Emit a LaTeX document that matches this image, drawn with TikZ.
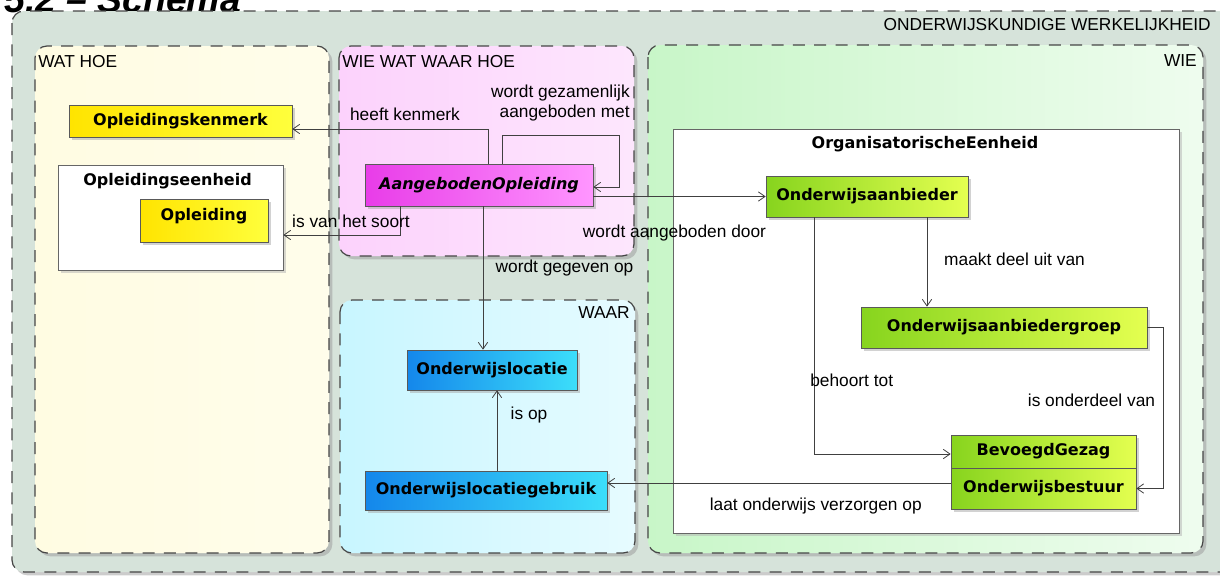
\documentclass[tikz,border=0pt]{standalone}
\usepackage{fontspec}
\setmainfont{Liberation Sans}
\newfontfamily\klassefont{DejaVu Sans}
\usetikzlibrary{shadows,arrows.meta,calc}

\definecolor{achtergrond}{RGB}{214,227,218}
\definecolor{lijngrijs}{RGB}{70,70,70}
\definecolor{watgeel}{RGB}{255,252,226}
\definecolor{roze}{RGB}{252,210,252}
\definecolor{lichtblauw}{RGB}{200,246,255}
\definecolor{lichtgroen}{RGB}{200,246,200}

\begin{document}
\begin{tikzpicture}[x=0.75pt,y=0.75pt,yscale=-1,xscale=1,
  pakket/.style={draw=lijngrijs, line width=0.9pt, dash pattern=on 9pt off 7pt, rounded corners=9pt,
    drop shadow={shadow xshift=2.5pt, shadow yshift=-2.5pt, fill=black!40}},
  klasse/.style={draw=black!65, line width=0.5pt, inner sep=0pt, text=black,
    font=\klassefont\bfseries\fontsize{12}{14}\selectfont,
    drop shadow={shadow xshift=2pt, shadow yshift=-2pt, fill=black!35}},
  geel/.style={klasse, left color={rgb,255:red,255;green,228;blue,0}, right color={rgb,255:red,255;green,255;blue,60}},
  magenta/.style={klasse, left color={rgb,255:red,232;green,60;blue,232}, right color={rgb,255:red,255;green,150;blue,255}},
  groen/.style={klasse, left color={rgb,255:red,135;green,212;blue,30}, right color={rgb,255:red,228;green,255;blue,80}},
  blauw/.style={klasse, left color={rgb,255:red,20;green,135;blue,235}, right color={rgb,255:red,60;green,222;blue,250}},
  omvat/.style={draw=black!60, line width=0.5pt, fill=white, inner sep=0pt,
    drop shadow={shadow xshift=2pt, shadow yshift=-2pt, fill=black!30}},
  kop/.style={font=\klassefont\bfseries\fontsize{12}{14}\selectfont, inner sep=0pt},
  lbl/.style={font=\fontsize{13}{15}\selectfont, inner sep=0pt},
  assoc/.style={draw=black!75, line width=0.6pt, -{Straight Barb[length=5pt,width=7pt]}}]

\clip (0,0) rectangle (1220,575);

% titel, bovenkant valt buiten beeld
\node[anchor=base west, inner sep=0pt, font=\fontsize{28}{30}\selectfont\bfseries\itshape] (titel) at (4,12) {5.2 – Schema};

% pakketten
\draw[pakket, fill=achtergrond, drop shadow={opacity=0}] (12,11) rectangle (1240,572);
\draw[pakket, left color=watgeel, right color=watgeel!70!white] (35,46) rectangle (329,553);
\draw[pakket, left color=roze, right color=roze!55!white] (339,46) rectangle (634,256);
\draw[pakket, left color=lichtblauw, right color=lichtblauw!45!white] (340,300) rectangle (635,553);
\draw[pakket, left color=lichtgroen, right color=lichtgroen!30!white] (648,45) rectangle (1203,553);

\node[lbl, anchor=east] (pOW) at (1211,25) {ONDERWIJSKUNDIGE WERKELIJKHEID};
\node[lbl, anchor=west] (pWATHOE) at (38,62) {WAT HOE};
\node[lbl, anchor=west] (pWWWH) at (342,62) {WIE WAT WAAR HOE};
\node[lbl, anchor=east] (pWAAR) at (630,313) {WAAR};
\node[lbl, anchor=east] (pWIE) at (1197,61) {WIE};

% omvattende klassen
\node[omvat, minimum width=168.75pt, minimum height=78.75pt] (OE) at (170.5,217.5) {};
\node[kop] (OEkop) at (167.5,181) {Opleidingseenheid};
\node[omvat, minimum width=379.5pt, minimum height=303pt] (OrgE) at (926,331) {};
\node[kop] (OrgEkop) at (925,144) {OrganisatorischeEenheid};

% klassen
\node[geel, minimum width=167.25pt, minimum height=24pt] (OKM) at (180.5,121) {Opleidingskenmerk};
\node[geel, minimum width=96pt, minimum height=32.25pt, text height=9pt, text depth=9pt] (OPL) at (204,220.5) {Opleiding};
\node[magenta, minimum width=171pt, minimum height=31.5pt, font=\klassefont\bfseries\itshape\fontsize{12}{14}\selectfont] (AO) at (479,185) {AangebodenOpleiding};
\node[groen, minimum width=151.5pt, minimum height=30.75pt] (OA) at (867,196.5) {Onderwijsaanbieder};
\node[groen, minimum width=214.5pt, minimum height=30.75pt] (OAG) at (1004,327.5) {Onderwijsaanbiedergroep};
\node[groen, minimum width=138.75pt, minimum height=24.75pt] (BG) at (1043.5,451.5) {BevoegdGezag};
\node[groen, minimum width=138.75pt, minimum height=30.75pt] (OB) at (1043.5,488.5) {Onderwijsbestuur};
\node[blauw, minimum width=127.5pt, minimum height=30pt] (OL) at (492,370) {Onderwijslocatie};
\node[blauw, minimum width=181.5pt, minimum height=29.25pt] (OLG) at (486,490.5) {Onderwijslocatiegebruik};

% associaties
\coordinate (hk) at ($(AO.north)+(9,0)$);
\coordinate (gz) at ($(AO.north)+(23,0)$);
\coordinate (vs) at ($(AO.south)+(-79,0)$);
\coordinate (go) at ($(AO.south)+(4,0)$);
\coordinate (io) at ($(OLG.north)+(11,0)$);
\coordinate (md) at ($(OA.south)+(60,0)$);
\coordinate (bt) at ($(OA.south)+(-53,0)$);
\coordinate (lo) at ($(OB.west)+(0,-5.5)$);

\draw[assoc] (hk) |- ($(OKM.east)+(0,8)$);
\draw[assoc] (gz) -- ++(0,-28) -| ($(AO.east)+(26,2)$) -- ($(AO.east)+(0,2)$);
\draw[assoc] (vs) |- ($(OE.east)+(0,17.5)$);
\draw[assoc] (AO.east |- OA.west) -- (OA.west);
\draw[assoc] (go) -- (go |- OL.north);
\draw[assoc] (io) -- (io |- OL.south);
\draw[assoc] (md) -- (md |- OAG.north);
\draw[assoc] (bt) |- ($(BG.west)+(0,2.5)$);
\draw[assoc] (OAG.east) -- ++(16,0) |- (OB.east);
\draw[assoc] (lo) -- (lo -| OLG.east);

% rollen
\node[lbl] (lhk) at (405,114) {heeft kenmerk};
\node[lbl, anchor=east, align=right] (lgz) at (630,103) {wordt gezamenlijk\\aangeboden met};
\node[lbl] (lvs) at (351,221) {is van het soort};
\node[lbl] (lad) at (674.5,233) {wordt aangeboden door};
\node[lbl] (lgo) at (564.5,268) {wordt gegeven op};
\node[lbl] (lio) at (529,415) {is op};
\node[lbl] (lmd) at (1014.5,259) {maakt deel uit van};
\node[lbl, anchor=west] (lbt) at (810,380) {behoort tot};
\node[lbl] (lod) at (1091.5,400) {is onderdeel van};
\node[lbl, anchor=east] (llo) at (922,506) {laat onderwijs verzorgen op};

\end{tikzpicture}
\end{document}
